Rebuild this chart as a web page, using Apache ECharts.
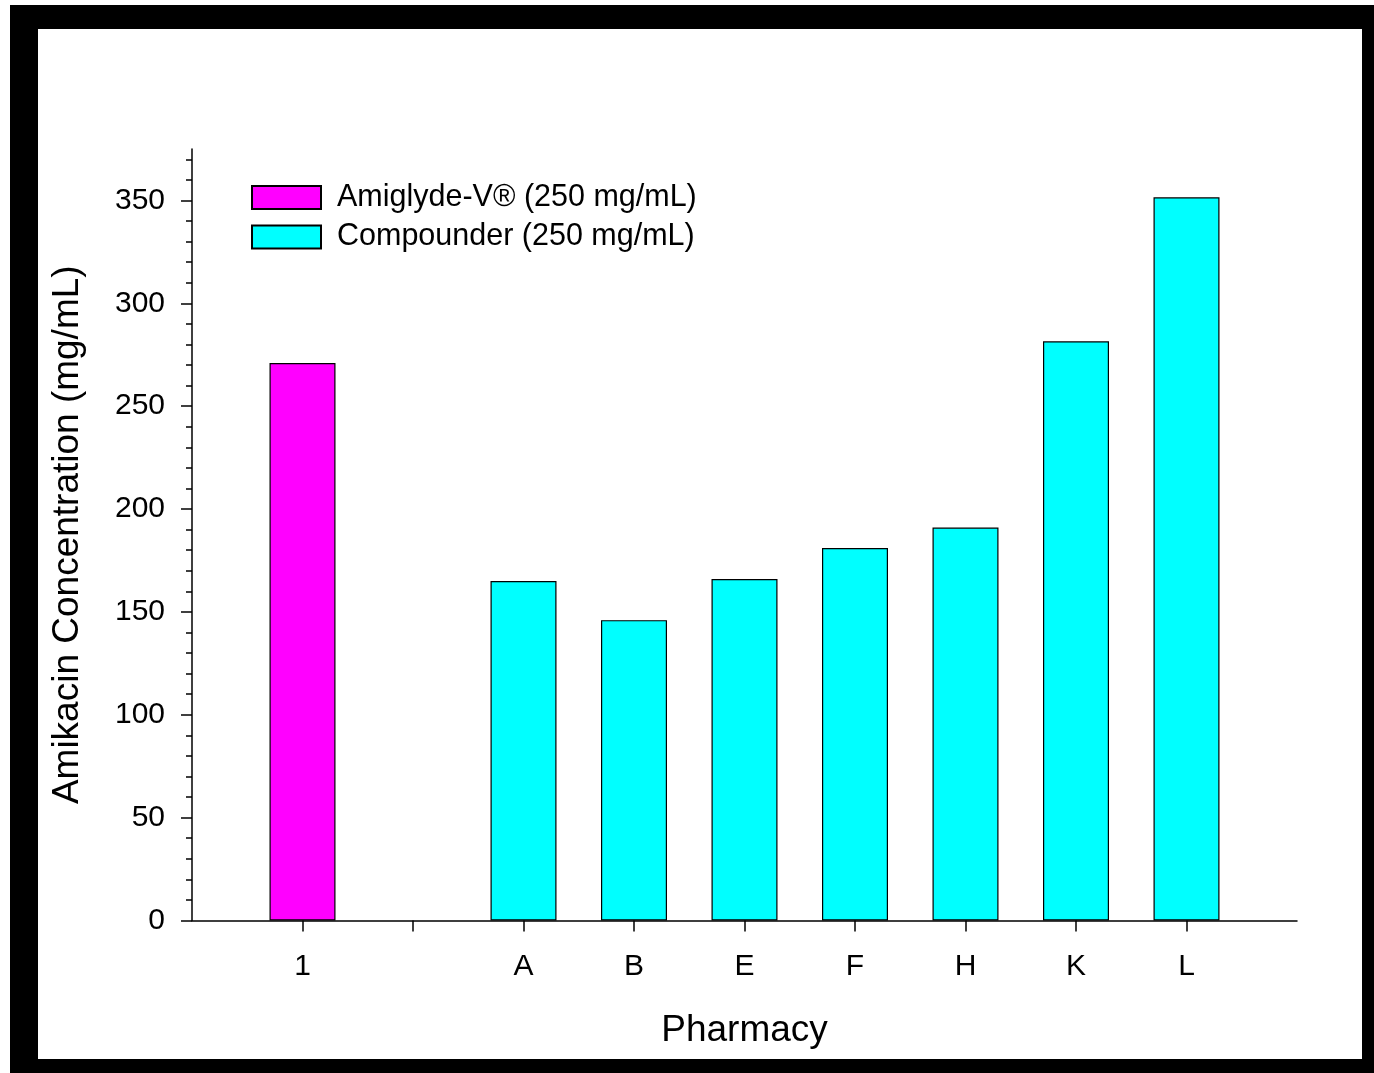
<!DOCTYPE html>
<html>
<head>
<meta charset="utf-8">
<script src="https://cdn.jsdelivr.net/npm/echarts@6/dist/echarts.min.js"></script>
<style>
html,body{margin:0;padding:0;background:#fff;}
#chart{width:1374px;height:1073px;}
</style>
</head>
<body>
<div id="chart"></div>
<script>
// Categories (pharmacies); the blank slot separates the reference product from compounders
const categories = ['1', '', 'A', 'B', 'E', 'F', 'H', 'K', 'L'];
const amiglydeValues = [271, null, null, null, null, null, null, null, null];
const compounderValues = [null, null, 165, 146, 166, 181, 191, 281.5, 351.5];
const yMajorTicks = [0, 50, 100, 150, 200, 250, 300, 350];
const yMinorTicks = [10, 20, 30, 40, 60, 70, 80, 90, 110, 120, 130, 140, 160, 170, 180, 190,
  210, 220, 230, 240, 260, 270, 280, 290, 310, 320, 330, 340, 360, 370];
const seriesNames = ['Amiglyde-V® (250 mg/mL)', 'Compounder (250 mg/mL)'];

// pad the category axis with an empty slot on each side
const xData = [''].concat(categories).concat(['']);
const pad = arr => [null].concat(arr).concat([null]);

const FONT = '"Liberation Sans", Arial, Helvetica, sans-serif';
const chart = echarts.init(document.getElementById('chart'), null, {renderer: 'canvas'});
const option = {
  animation: false,
  backgroundColor: '#fff',
  graphic: [
    {type: 'rect', z: -10, shape: {x: 10, y: 5, width: 1364, height: 1068}, style: {fill: '#000'}},
    {type: 'rect', z: -9, shape: {x: 38, y: 29, width: 1324, height: 1030}, style: {fill: '#fff'}}
  ],
  grid: {left: 192, right: 77, top: 149, bottom: 152.5, containLabel: false},
  legend: {
    orient: 'vertical',
    left: 246,
    top: 177,
    itemWidth: 69,
    itemHeight: 23,
    itemGap: 8.5,
    icon: 'rect',
    data: seriesNames,
    textStyle: {fontFamily: FONT, fontSize: 30.5, color: '#000', padding: [0, 0, 0, 11]}
  },
  xAxis: {
    type: 'category',
    data: xData,
    boundaryGap: false,
    name: 'Pharmacy',
    nameLocation: 'middle',
    nameGap: 92,
    nameTextStyle: {fontFamily: FONT, fontSize: 37, color: '#000'},
    axisLine: {lineStyle: {color: '#000', width: 1.5}},
    axisTick: {show: true, length: 11, inside: false, lineStyle: {color: '#000', width: 1.5},
      interval: (idx) => idx >= 1 && idx <= categories.length},
    axisLabel: {interval: 0, margin: 31, fontFamily: FONT, fontSize: 30, color: '#000'},
    splitLine: {show: false}
  },
  yAxis: [
    {
      type: 'value',
      min: 0,
      max: 375,
      interval: 50,
      name: 'Amikacin Concentration (mg/mL)',
      nameLocation: 'middle',
      nameGap: 106,
      nameTextStyle: {fontFamily: FONT, fontSize: 37, color: '#000'},
      axisLine: {show: true, lineStyle: {color: '#000', width: 1.5}},
      axisTick: {show: true, length: 11, customValues: yMajorTicks, lineStyle: {color: '#000', width: 1.5}},
      axisLabel: {customValues: yMajorTicks, margin: 27, fontFamily: FONT, fontSize: 30, color: '#000'},
      splitLine: {show: false}
    },
    {
      type: 'value',
      position: 'left',
      offset: 0,
      min: 0,
      max: 375,
      interval: 10,
      axisLine: {show: false},
      axisTick: {show: true, length: 6, customValues: yMinorTicks, lineStyle: {color: '#000', width: 1.5}},
      axisLabel: {show: false},
      splitLine: {show: false}
    }
  ],
  series: [
    {
      name: seriesNames[0],
      type: 'bar',
      stack: 'all',
      barWidth: 66,
      data: pad(amiglydeValues),
      itemStyle: {color: '#FF00FF', borderColor: '#000', borderWidth: 1.2}
    },
    {
      name: seriesNames[1],
      type: 'bar',
      stack: 'all',
      barWidth: 66,
      data: pad(compounderValues),
      itemStyle: {color: '#00FFFF', borderColor: '#000', borderWidth: 1.2}
    }
  ]
};
chart.setOption(option);
</script>
</body>
</html>
